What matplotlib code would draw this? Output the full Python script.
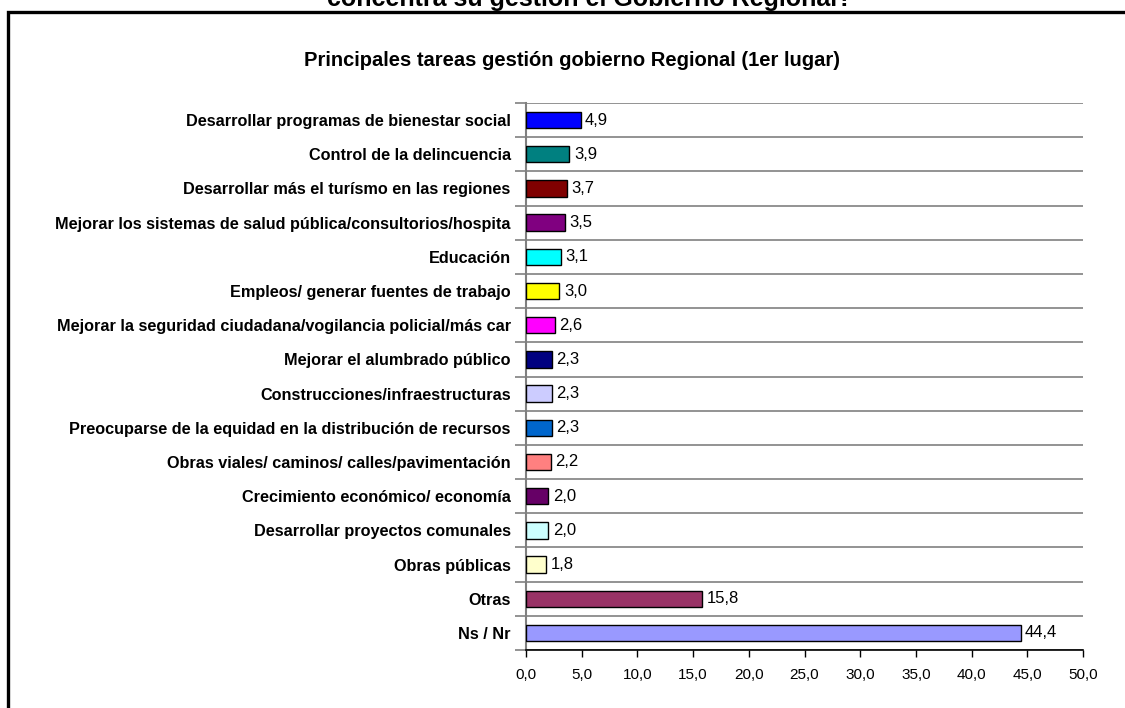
import matplotlib
matplotlib.use("Agg")
import matplotlib.pyplot as plt
from matplotlib.patches import Rectangle
from matplotlib.ticker import FixedLocator

plt.rcParams['font.family'] = ['Liberation Sans', 'DejaVu Sans']

categories = [
    "Desarrollar programas de bienestar social",
    "Control de la delincuencia",
    "Desarrollar más el turísmo en las regiones",
    "Mejorar los sistemas de salud pública/consultorios/hospita",
    "Educación",
    "Empleos/ generar fuentes de trabajo",
    "Mejorar la seguridad ciudadana/vogilancia policial/más car",
    "Mejorar el alumbrado público",
    "Construcciones/infraestructuras",
    "Preocuparse de la equidad en la distribución de recursos",
    "Obras viales/ caminos/ calles/pavimentación",
    "Crecimiento económico/ economía",
    "Desarrollar proyectos comunales",
    "Obras públicas",
    "Otras",
    "Ns / Nr",
]
values = [4.9, 3.9, 3.7, 3.5, 3.1, 3.0, 2.6, 2.3, 2.3, 2.3, 2.2, 2.0, 2.0, 1.8, 15.8, 44.4]
colors = ["#0000FF", "#008080", "#800000", "#800080", "#00FFFF", "#FFFF00",
          "#FF00FF", "#000080", "#CCCCFF", "#0066CC", "#FF8080", "#660066",
          "#CCFFFF", "#FFFFCC", "#993366", "#9999FF"]
x_ticks = [0, 5, 10, 15, 20, 25, 30, 35, 40, 45, 50]

title_top = "concentra su gestión el Gobierno Regional?"
chart_title = "Principales tareas gestión gobierno Regional (1er lugar)"

fig = plt.figure(figsize=(11.25, 7.08), dpi=100)
W, H = 1125, 708

# outer frame
fig.patches.append(Rectangle((7.5 / W, -0.05), 1.2, 1 - 11.5 / H + 0.05,
                             transform=fig.transFigure, fill=False,
                             edgecolor="black", linewidth=2.4, zorder=0))
fig.text(590 / W, 1 - 6 / H, title_top, ha="center", va="baseline",
         fontsize=18, fontweight="bold")
fig.text(572 / W, 1 - 60 / H, chart_title, ha="center", va="center",
         fontsize=14.5, fontweight="bold")

ax = fig.add_axes([526 / W, 58 / H, (1083 - 526) / W, (650 - 103) / H])
ypos = list(range(len(categories)))
ax.barh(ypos, values, height=0.48, color=colors, edgecolor="black", linewidth=1.0, zorder=3)
for y, v in zip(ypos, values):
    ax.text(v + 0.4, y, f"{v:.1f}".replace(".", ","), va="center", ha="left", fontsize=12)

ax.set_ylim(len(categories) - 0.5, -0.5)
ax.set_xlim(0, 50)
ax.set_yticks(ypos)
ax.set_yticklabels(categories, fontsize=11.7, fontweight="bold")
ax.tick_params(axis="y", which="major", length=0, pad=11)
ax.yaxis.set_minor_locator(FixedLocator([i - 0.5 for i in range(len(categories) + 1)]))
ax.tick_params(axis="y", which="minor", length=8, color="#808080", width=1.2)
ax.grid(axis="y", which="minor", color="#808080", linewidth=1.2, zorder=1)

ax.set_xticks(x_ticks)
ax.set_xticklabels([f"{t:.1f}".replace(".", ",") for t in x_ticks], fontsize=11)
ax.tick_params(axis="x", length=5, width=1, pad=8)

for s in ["top", "right"]:
    ax.spines[s].set_visible(False)
ax.spines["left"].set_color("#808080")
ax.spines["left"].set_linewidth(1.5)
ax.spines["bottom"].set_linewidth(1.2)

fig.savefig("out.png", dpi=100)
